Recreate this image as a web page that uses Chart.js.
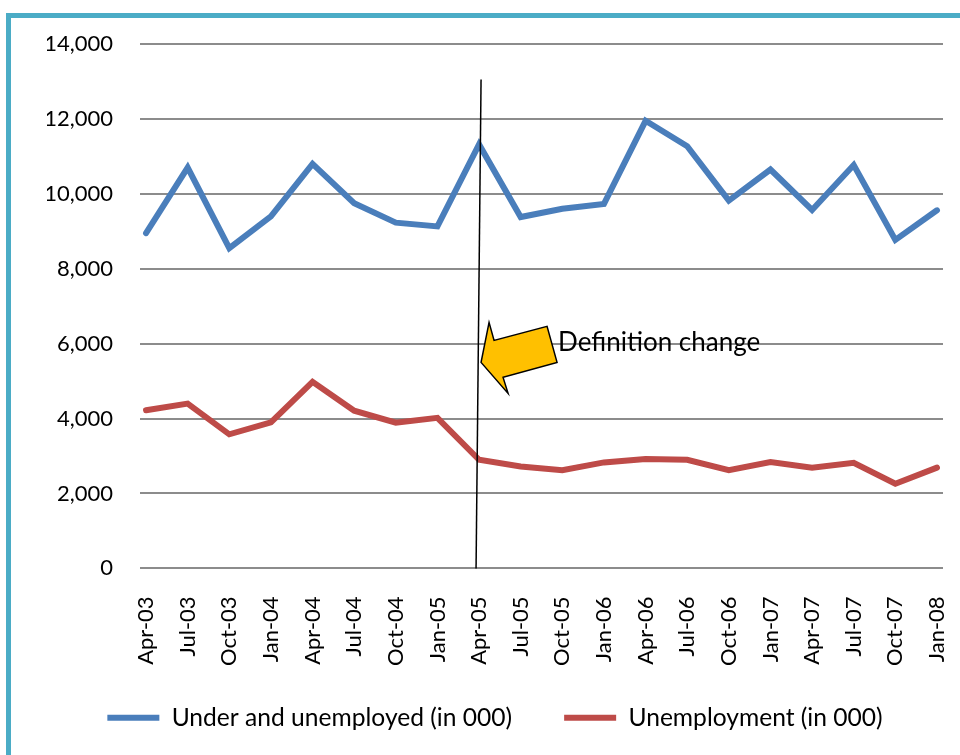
<!DOCTYPE html>
<html>
<head>
<meta charset="utf-8">
<script src="https://cdn.jsdelivr.net/npm/chart.js@4.4.1/dist/chart.umd.min.js"></script>
<style>
  html, body { margin: 0; padding: 0; background: #ffffff; overflow: hidden; }
  #frame { position: absolute; left: 6px; top: 13px; width: 1000px; height: 800px;
           border-left: 5px solid #4BACC6; border-top: 5px solid #4BACC6; box-sizing: border-box; }
  #wrap { position: absolute; left: 0; top: 0; width: 960px; height: 755px; }
</style>
</head>
<body>
<div id="frame"></div>
<div id="wrap"><canvas id="c" width="960" height="755"></canvas></div>
<script>
const categories = ["Apr-03","Jul-03","Oct-03","Jan-04","Apr-04","Jul-04","Oct-04","Jan-05","Apr-05","Jul-05",
                    "Oct-05","Jan-06","Apr-06","Jul-06","Oct-06","Jan-07","Apr-07","Jul-07","Oct-07","Jan-08"];
const underAndUnemployed = [8950,10700,8550,9400,10800,9750,9230,9130,11320,9380,
                            9600,9730,11950,11270,9820,10650,9570,10770,8770,9560];
const unemployment = [4220,4400,3580,3900,4980,4210,3890,4020,2900,2720,
                      2620,2830,2920,2900,2620,2840,2690,2820,2260,2690];
const yTicks = [0,2000,4000,6000,8000,10000,12000,14000];
const seriesNames = ["Under and unemployed (in 000)", "Unemployment (in 000)"];
const annotationText = "Definition change";
const changeIndex = 8;

const FONT = "Lato, 'Open Sans', sans-serif";

const toPoints = arr => arr.map((v, i) => ({x: i, y: v}));

const layoutFix = {
  id: 'layoutFix',
  afterLayout(chart) {
    chart.scales.x.bottom = chart.height;
  }
};

const annotationPlugin = {
  id: 'defChange',
  afterDatasetsDraw(chart) {
    const ctx = chart.ctx;
    const xs = chart.scales.x, ys = chart.scales.y;
    const px = xs.getPixelForValue(changeIndex);
    ctx.save();
    ctx.strokeStyle = '#000';
    ctx.lineWidth = 1.5;
    ctx.beginPath();
    ctx.moveTo(px + 2, ys.getPixelForValue(13050));
    ctx.lineTo(px - 3, ys.getPixelForValue(0));
    ctx.stroke();
    const tx = px + 2, ty = ys.getPixelForValue(5500);
    const pts = [[0,0],[8,-40],[13,-22],[66,-36],[76,0],[22,15],[27,31]];
    ctx.beginPath();
    pts.forEach((p, i) => i ? ctx.lineTo(tx + p[0], ty + p[1]) : ctx.moveTo(tx + p[0], ty + p[1]));
    ctx.closePath();
    ctx.fillStyle = '#FFC000';
    ctx.fill();
    ctx.strokeStyle = '#000';
    ctx.lineWidth = 1.5;
    ctx.lineJoin = 'miter';
    ctx.stroke();
    ctx.fillStyle = '#000';
    ctx.font = "26px " + FONT;
    ctx.textAlign = 'left';
    ctx.textBaseline = 'middle';
    ctx.fillText(annotationText, tx + 77, ys.getPixelForValue(6000) - 1);
    ctx.restore();
  }
};

new Chart(document.getElementById('c'), {
  type: 'line',
  data: {
    datasets: [
      { label: seriesNames[0], data: toPoints(underAndUnemployed), borderColor: '#4A7EBB', backgroundColor: '#4A7EBB',
        borderWidth: 6, pointRadius: 0, tension: 0, borderCapStyle: 'round', pointStyle: 'line' },
      { label: seriesNames[1], data: toPoints(unemployment), borderColor: '#BE4B48', backgroundColor: '#BE4B48',
        borderWidth: 6, pointRadius: 0, tension: 0, borderCapStyle: 'round', pointStyle: 'line' }
    ]
  },
  options: {
    responsive: false,
    animation: false,
    events: [],
    layout: { padding: { left: 47, right: 17, top: 44, bottom: 15 } },
    plugins: {
      tooltip: { enabled: false },
      legend: {
        position: 'bottom',
        labels: {
          color: '#000',
          font: { family: FONT, size: 24.6 },
          usePointStyle: true,
          pointStyleWidth: 52,
          padding: 52
        }
      }
    },
    scales: {
      x: {
        type: 'linear',
        min: -0.145,
        max: categories.length - 1 + 0.145,
        afterBuildTicks: axis => { axis.ticks = categories.map((_, i) => ({ value: i })); },
        afterFit: axis => { axis.height = 85; axis.paddingLeft = 0; axis.paddingRight = 0; },
        grid: { display: false, drawTicks: false },
        border: { display: false },
        ticks: {
          autoSkip: false,
          minRotation: 90, maxRotation: 90,
          padding: 28,
          color: '#000',
          font: { family: FONT, size: 22 },
          callback: v => categories[v]
        }
      },
      y: {
        min: 0, max: 14000,
        afterBuildTicks: axis => { axis.ticks = yTicks.map(v => ({ value: v })); },
        afterFit: axis => { axis.width = 93; axis.paddingTop = 0; axis.paddingBottom = 0; },
        grid: { color: '#8C8C8C', lineWidth: 2, drawTicks: false },
        border: { display: false },
        ticks: {
          padding: 27,
          color: '#000',
          font: { family: FONT, size: 22 },
          callback: v => v.toLocaleString('en-US')
        }
      }
    }
  },
  plugins: [layoutFix, annotationPlugin]
});
</script>
</body>
</html>
